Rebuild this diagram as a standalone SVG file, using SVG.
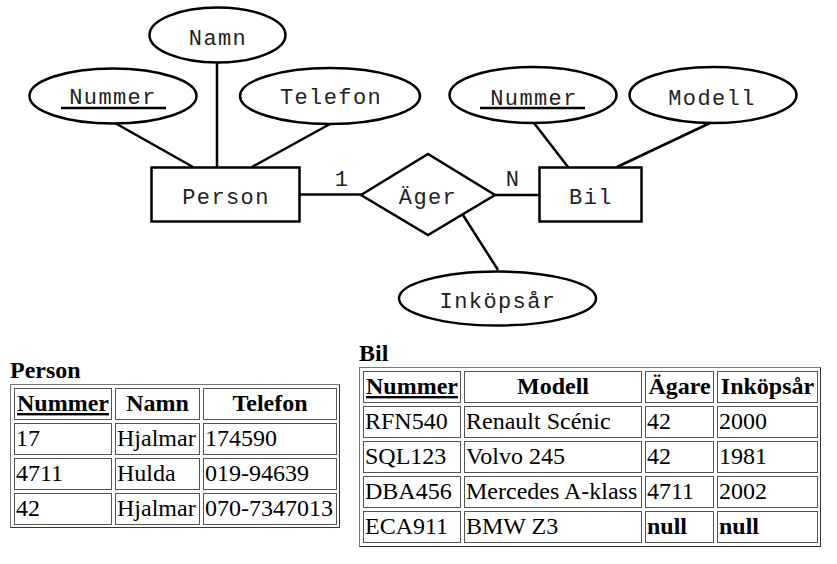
<svg xmlns="http://www.w3.org/2000/svg" width="837" height="564" viewBox="0 0 837 564">
<style>
.sh{fill:#fff;stroke:#000;stroke-width:2.5}
.ln{stroke:#000;stroke-width:2.5;fill:none}
.er{font-family:"Liberation Mono","Courier New",monospace;font-size:22px;letter-spacing:1.4px;fill:#222;text-anchor:middle}
.cell{fill:#fff;stroke:#555;stroke-width:1}
.td{font-family:"Liberation Serif","Times New Roman",serif;font-size:24px;fill:#000}
.th{font-family:"Liberation Serif","Times New Roman",serif;font-size:24px;font-weight:bold;fill:#000;text-anchor:middle}
.cap{font-family:"Liberation Serif","Times New Roman",serif;font-size:24px;font-weight:bold;fill:#000}
</style>
<rect width="837" height="564" fill="#fff"/>
<g id="connectors">
<line class="ln" x1="115" y1="123" x2="193" y2="167"/>
<line class="ln" x1="217" y1="63" x2="217" y2="167"/>
<line class="ln" x1="330" y1="124" x2="252" y2="167"/>
<line class="ln" x1="300" y1="194.5" x2="362" y2="194.5"/>
<line class="ln" x1="495" y1="195" x2="539" y2="195"/>
<line class="ln" x1="534" y1="123" x2="568" y2="167"/>
<line class="ln" x1="710" y1="123" x2="617" y2="167"/>
<line class="ln" x1="463" y1="215" x2="498" y2="270"/>
<text class="er" x="342" y="186">1</text>
<text class="er" x="513" y="186">N</text>
</g>
<g id="namn"><ellipse class="sh" cx="217.5" cy="35" rx="68" ry="27.5"/><text class="er" x="218" y="45">Namn</text></g>
<g id="p-nummer"><ellipse class="sh" cx="113" cy="96" rx="83.5" ry="27.5"/><text class="er" x="113" y="104">Nummer</text><line x1="61" y1="108" x2="166" y2="108" stroke="#000" stroke-width="2.5"/></g>
<g id="telefon"><ellipse class="sh" cx="330" cy="96" rx="90" ry="28"/><text class="er" x="331" y="104">Telefon</text></g>
<g id="person"><rect class="sh" x="151.5" y="167.5" width="148" height="54"/><text class="er" x="226" y="204">Person</text></g>
<g id="ager"><polygon class="sh" points="361,195 428,154 495,195 428,235"/><text class="er" x="428" y="204">Äger</text></g>
<g id="bil"><rect class="sh" x="539.5" y="167.5" width="102" height="54"/><text class="er" x="591" y="204">Bil</text></g>
<g id="b-nummer"><ellipse class="sh" cx="533" cy="95" rx="83.5" ry="28"/><text class="er" x="534" y="105">Nummer</text><line x1="480" y1="108" x2="585" y2="108" stroke="#000" stroke-width="2.5"/></g>
<g id="modell"><ellipse class="sh" cx="713" cy="95" rx="83.5" ry="28"/><text class="er" x="712" y="105">Modell</text></g>
<g id="inkopsar"><ellipse class="sh" cx="497.5" cy="298.5" rx="98.5" ry="27"/><text class="er" x="498" y="308">Inköpsår</text></g>

<g id="person-table">
<text class="cap" x="10" y="378">Person</text>
<rect x="10.5" y="384.5" width="329" height="143" fill="#fff" stroke="#777"/>
<path d="M339.5 384.5V527.5H10.5" fill="none" stroke="#333"/>
<rect class="cell" x="14.5" y="388.5" width="97" height="31"/>
<rect class="cell" x="115.5" y="388.5" width="84" height="31"/>
<rect class="cell" x="203.5" y="388.5" width="133" height="31"/>
<rect class="cell" x="14.5" y="423.5" width="97" height="31"/>
<rect class="cell" x="115.5" y="423.5" width="84" height="31"/>
<rect class="cell" x="203.5" y="423.5" width="133" height="31"/>
<rect class="cell" x="14.5" y="458.5" width="97" height="31"/>
<rect class="cell" x="115.5" y="458.5" width="84" height="31"/>
<rect class="cell" x="203.5" y="458.5" width="133" height="31"/>
<rect class="cell" x="14.5" y="493.5" width="97" height="31"/>
<rect class="cell" x="115.5" y="493.5" width="84" height="31"/>
<rect class="cell" x="203.5" y="493.5" width="133" height="31"/>
<text class="th" x="63" y="411" text-decoration="underline">Nummer</text>
<text class="th" x="157.5" y="411">Namn</text>
<text class="th" x="270" y="411">Telefon</text>
<text class="td" x="16" y="446">17</text>
<text class="td" x="117" y="446">Hjalmar</text>
<text class="td" x="205" y="446">174590</text>
<text class="td" x="16" y="481">4711</text>
<text class="td" x="117" y="481">Hulda</text>
<text class="td" x="205" y="481">019-94639</text>
<text class="td" x="16" y="516">42</text>
<text class="td" x="117" y="516">Hjalmar</text>
<text class="td" x="205" y="516">070-7347013</text>
</g>

<g id="bil-table">
<text class="cap" x="359" y="361">Bil</text>
<rect x="359.5" y="367.5" width="461" height="179" fill="#fff" stroke="#777"/>
<path d="M820.5 367.5V546.5H359.5" fill="none" stroke="#333"/>
<rect class="cell" x="363.5" y="371.5" width="97" height="31"/>
<rect class="cell" x="464.5" y="371.5" width="177" height="31"/>
<rect class="cell" x="645.5" y="371.5" width="68" height="31"/>
<rect class="cell" x="717.5" y="371.5" width="100" height="31"/>
<rect class="cell" x="363.5" y="406.5" width="97" height="31"/>
<rect class="cell" x="464.5" y="406.5" width="177" height="31"/>
<rect class="cell" x="645.5" y="406.5" width="68" height="31"/>
<rect class="cell" x="717.5" y="406.5" width="100" height="31"/>
<rect class="cell" x="363.5" y="441.5" width="97" height="31"/>
<rect class="cell" x="464.5" y="441.5" width="177" height="31"/>
<rect class="cell" x="645.5" y="441.5" width="68" height="31"/>
<rect class="cell" x="717.5" y="441.5" width="100" height="31"/>
<rect class="cell" x="363.5" y="476.5" width="97" height="31"/>
<rect class="cell" x="464.5" y="476.5" width="177" height="31"/>
<rect class="cell" x="645.5" y="476.5" width="68" height="31"/>
<rect class="cell" x="717.5" y="476.5" width="100" height="31"/>
<rect class="cell" x="363.5" y="511.5" width="97" height="31"/>
<rect class="cell" x="464.5" y="511.5" width="177" height="31"/>
<rect class="cell" x="645.5" y="511.5" width="68" height="31"/>
<rect class="cell" x="717.5" y="511.5" width="100" height="31"/>
<text class="th" x="412" y="394" text-decoration="underline">Nummer</text>
<text class="th" x="553" y="394">Modell</text>
<text class="th" x="679.5" y="394">Ägare</text>
<text class="th" x="767.5" y="394">Inköpsår</text>
<text class="td" x="365" y="429">RFN540</text>
<text class="td" x="466" y="429">Renault Scénic</text>
<text class="td" x="647" y="429">42</text>
<text class="td" x="719" y="429">2000</text>
<text class="td" x="365" y="464">SQL123</text>
<text class="td" x="466" y="464">Volvo 245</text>
<text class="td" x="647" y="464">42</text>
<text class="td" x="719" y="464">1981</text>
<text class="td" x="365" y="499">DBA456</text>
<text class="td" x="466" y="499">Mercedes A-klass</text>
<text class="td" x="647" y="499">4711</text>
<text class="td" x="719" y="499">2002</text>
<text class="td" x="365" y="534">ECA911</text>
<text class="td" x="466" y="534">BMW Z3</text>
<text class="td" x="647" y="534" font-weight="bold">null</text>
<text class="td" x="719" y="534" font-weight="bold">null</text>
</g>
</svg>
